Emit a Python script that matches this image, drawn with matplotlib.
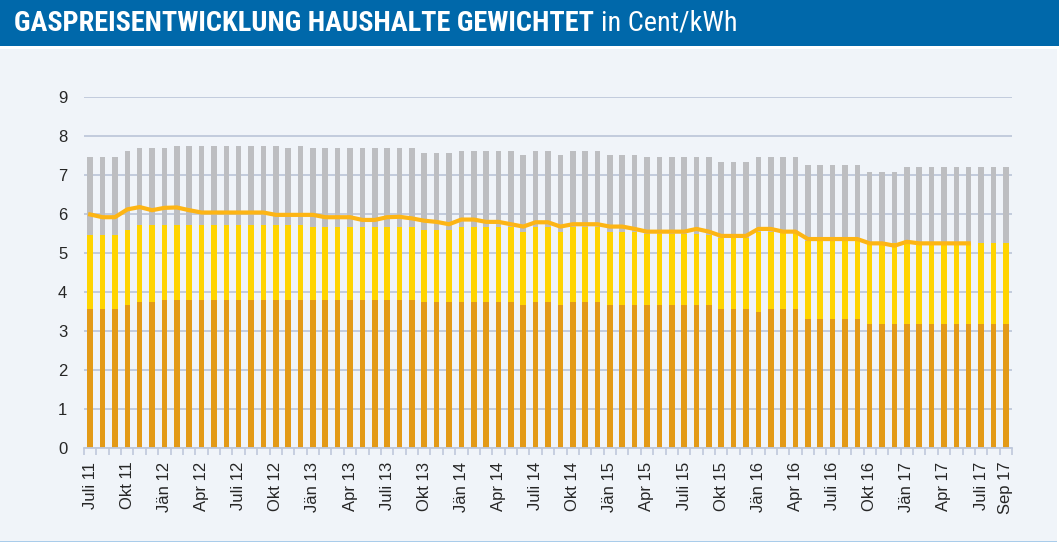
import numpy as np
import matplotlib
matplotlib.use("Agg")
import matplotlib.pyplot as plt
from matplotlib import font_manager
from matplotlib.patches import Rectangle

plt.rcParams["font.family"] = ["Liberation Sans", "DejaVu Sans"]

# categories: monthly, Juli 11 .. Sep 17
month_names = ["Jän", "Feb", "Mär", "Apr", "Mai", "Juni",
               "Juli", "Aug", "Sep", "Okt", "Nov", "Dez"]
months = [f"{month_names[m]} {y:02d}" for y in range(11, 18) for m in range(12)][6:81]

tick_labels = ["Juli 11", "Okt 11", "Jän 12", "Apr 12", "Juli 12", "Okt 12",
               "Jän 13", "Apr 13", "Juli 13", "Okt 13", "Jän 14", "Apr 14",
               "Juli 14", "Okt 14", "Jän 15", "Apr 15", "Juli 15", "Okt 15",
               "Jän 16", "Apr 16", "Juli 16", "Okt 16", "Jän 17", "Apr 17",
               "Juli 17", "Sep 17"]

# cumulative levels in Cent/kWh
level_orange = [3.55, 3.55, 3.55, 3.66, 3.74, 3.74,
                3.79, 3.79, 3.79, 3.79, 3.79, 3.79, 3.79, 3.79, 3.79, 3.79,
                3.79, 3.79, 3.79, 3.79, 3.79, 3.79, 3.79, 3.79, 3.79, 3.79, 3.79,
                3.74, 3.74, 3.74, 3.74, 3.74, 3.74, 3.74, 3.74,
                3.66, 3.74, 3.74, 3.66, 3.74, 3.74, 3.74,
                3.66, 3.66, 3.66, 3.66, 3.66, 3.66, 3.66, 3.66, 3.66,
                3.55, 3.55, 3.55, 3.48, 3.55, 3.55, 3.55,
                3.30, 3.30, 3.30, 3.30, 3.30,
                3.17, 3.17, 3.17, 3.17, 3.17, 3.17, 3.17, 3.17, 3.17, 3.17, 3.17, 3.17]

level_yellow = [5.46, 5.46, 5.46, 5.59,
                5.70, 5.70, 5.70, 5.70, 5.70, 5.70, 5.70, 5.70, 5.70, 5.70, 5.70,
                5.70, 5.70, 5.70,
                5.65, 5.65, 5.65, 5.65, 5.65, 5.65, 5.65, 5.65, 5.65,
                5.59, 5.59, 5.59,
                5.65, 5.65, 5.65, 5.65, 5.65,
                5.53, 5.65, 5.65, 5.53, 5.65, 5.65, 5.65,
                5.53, 5.53, 5.53,
                5.48, 5.48, 5.48, 5.48, 5.48, 5.45,
                5.37, 5.37, 5.37, 5.52, 5.52, 5.50, 5.50,
                5.31, 5.31, 5.31, 5.31, 5.31,
                5.24, 5.24, 5.24, 5.24, 5.24, 5.24, 5.24, 5.24, 5.24, 5.24, 5.24, 5.24]

level_total = [7.45, 7.45, 7.45, 7.62, 7.68, 7.68, 7.68,
               7.74, 7.74, 7.74, 7.74, 7.74, 7.74, 7.74, 7.74, 7.74,
               7.68, 7.74,
               7.68, 7.68, 7.68, 7.68, 7.68, 7.68, 7.68, 7.68, 7.68,
               7.56, 7.56, 7.56,
               7.62, 7.62, 7.62, 7.62, 7.62,
               7.50, 7.62, 7.62, 7.50, 7.62, 7.62, 7.62,
               7.50, 7.50, 7.50,
               7.45, 7.45, 7.45, 7.45, 7.45, 7.45,
               7.32, 7.32, 7.32,
               7.45, 7.45, 7.45, 7.45,
               7.25, 7.25, 7.25, 7.25, 7.25,
               7.07, 7.07, 7.07,
               7.19, 7.19, 7.19, 7.19, 7.19, 7.19, 7.19, 7.19, 7.19]

line_values = [5.98, 5.91, 5.91, 6.11, 6.17, 6.09, 6.15, 6.16, 6.09,
               6.03, 6.03, 6.03, 6.03, 6.03, 6.03,
               5.97, 5.97, 5.97, 5.97, 5.91, 5.91, 5.91, 5.84, 5.84,
               5.91, 5.92, 5.88, 5.82, 5.79, 5.73, 5.85, 5.85, 5.79, 5.79,
               5.73, 5.67, 5.78, 5.78, 5.67, 5.73, 5.73, 5.73, 5.67, 5.67,
               5.61, 5.54, 5.54, 5.54, 5.54, 5.61, 5.54, 5.43, 5.43, 5.43,
               5.61, 5.61, 5.54, 5.54, 5.35, 5.35, 5.35, 5.35, 5.35,
               5.24, 5.24, 5.18, 5.28, 5.24, 5.24, 5.24, 5.24, 5.24,
               np.nan, np.nan, np.nan]

c_orange = "#E39A17"
c_yellow = "#FFD400"
c_gray = "#BDBEC1"
c_line = "#FDB515"
c_grid = "#BFC8DB"
c_bg = "#F0F4F9"
c_head = "#0068AA"
c_text = "#262626"

W, H = 1059, 543
fig = plt.figure(figsize=(W / 100, H / 100), dpi=100, facecolor="white")

# background panel and header band (drawn below the axes)
fig.patches.append(Rectangle((0, 2 / H), 1057 / W, 1 - 51 / H, transform=fig.transFigure,
                             facecolor=c_bg, edgecolor="none", zorder=-10))
fig.patches.append(Rectangle((0, 1 / H), 1057 / W, 1.5 / H, transform=fig.transFigure,
                             facecolor="#A9CCEA", edgecolor="none", zorder=-10))
fig.patches.append(Rectangle((0, 1 - 46 / H), 1, 46 / H, transform=fig.transFigure,
                             facecolor=c_head, edgecolor="none", zorder=-10))

# title, bold part fitted to width
names = {f.name for f in font_manager.fontManager.ttflist}
title_font = "Liberation Sans"
for cand in ["Liberation Sans Narrow", "Roboto Condensed"]:
    if cand in names:
        title_font = cand
        break

renderer = fig.canvas.get_renderer()
t1 = fig.text(14 / W, 1 - 31 / H, "GASPREISENTWICKLUNG HAUSHALTE GEWICHTET",
              color="white", fontweight="bold", family=title_font, fontsize=15)
w = t1.get_window_extent(renderer).width
t1.set_fontsize(15 * 582 / w)
w = t1.get_window_extent(renderer).width
fs = t1.get_fontsize()
t2 = fig.text((14 + w + 7) / W, 1 - 31 / H, "in Cent/kWh", color="white",
              family=title_font, fontsize=fs)

ax = fig.add_axes([84 / W, (H - 447.7) / H, 928 / W, 351 / H])
ax.set_facecolor("none")

x = np.arange(len(months))
orange = np.array(level_orange)
yellow = np.array(level_yellow)
total = np.array(level_total)
bw = 0.45
ax.bar(x, orange, width=bw, color=c_orange, zorder=2)
ax.bar(x, yellow - orange, bottom=orange, width=bw, color=c_yellow, zorder=2)
ax.bar(x, total - yellow, bottom=yellow, width=bw, color=c_gray, zorder=2)
ax.plot(x, line_values, color=c_line, lw=3, zorder=3, solid_joinstyle="round")

ax.set_xlim(-0.45, len(months) - 0.5)
ax.set_ylim(0, 9)
ax.set_yticks(range(10))
ax.yaxis.grid(True, color=c_grid, lw=1.3, zorder=1)
ax.set_axisbelow(True)
ax.tick_params(axis="y", length=0, pad=12, labelsize=12, labelcolor=c_text)

ax.set_xticks(np.arange(len(months) + 1) - 0.5)
ax.set_xticklabels([])
ax.tick_params(axis="x", which="major", length=5, color=c_grid, width=1.2)
ax.set_xticks([months.index(t) for t in tick_labels], minor=True)
ax.set_xticklabels(tick_labels, minor=True, rotation=90)
ax.tick_params(axis="x", which="minor", length=0, pad=10, labelsize=12,
               labelcolor=c_text)

for s in ["top", "right", "left"]:
    ax.spines[s].set_visible(False)
ax.spines["bottom"].set_color(c_grid)
ax.spines["bottom"].set_linewidth(1.3)

fig.savefig("out.png", dpi=100, facecolor="white")
